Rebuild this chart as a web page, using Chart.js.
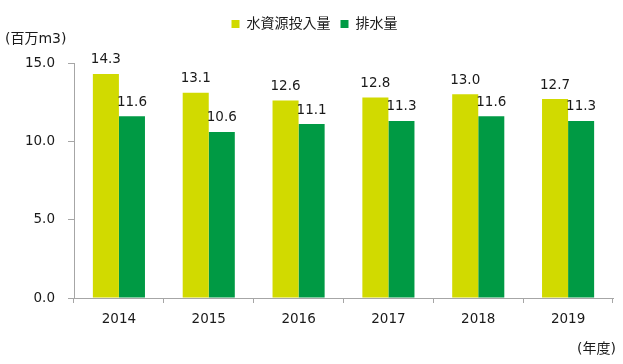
<!DOCTYPE html>
<html>
<head>
<meta charset="utf-8">
<script src="https://cdn.jsdelivr.net/npm/chart.js@4"></script>
<style>
  html, body { margin: 0; padding: 0; background: #fff; }
  .wrap { position: relative; width: 623px; height: 364px; }
  .unit { position: absolute; font: 14px 'DejaVu Sans', 'Noto Sans CJK JP', sans-serif; color: #1a1a1a; line-height: 16px; white-space: nowrap; }
</style>
</head>
<body>
<div class="wrap">
  <canvas id="chart" width="623" height="364"></canvas>
  <div class="unit" style="left:5px;top:30px">(百万m3)</div>
  <div class="unit" style="left:577px;top:340px">(年度)</div>
</div>
<script>
const years = ['2014', '2015', '2016', '2017', '2018', '2019'];
const waterInput = [14.3, 13.1, 12.6, 12.8, 13.0, 12.7];
const drainage = [11.6, 10.6, 11.1, 11.3, 11.6, 11.3];
const seriesNames = ['水資源投入量', '排水量'];
const yTicks = [0, 5, 10, 15];

const font = "'DejaVu Sans', 'Noto Sans CJK JP', sans-serif";
const textColor = '#1a1a1a';
const axisColor = '#a6a6a6';

// value labels above each bar
const barLabels = {
  id: 'barLabels',
  afterDatasetsDraw(chart) {
    const ctx = chart.ctx;
    ctx.save();
    ctx.font = '13.5px ' + font;
    ctx.fillStyle = textColor;
    ctx.textAlign = 'center';
    ctx.textBaseline = 'alphabetic';
    chart.data.datasets.forEach((ds, i) => {
      chart.getDatasetMeta(i).data.forEach((bar, j) => {
        ctx.fillText(ds.data[j].toFixed(1), bar.x, bar.y - 10.5);
      });
    });
    ctx.restore();
  }
};

// extra gap under the legend
const legendGap = {
  id: 'legendGap',
  beforeInit(chart) {
    const fit = chart.legend.fit;
    chart.legend.fit = function() {
      fit.bind(chart.legend)();
      this.height += 22;
    };
  }
};

new Chart(document.getElementById('chart'), {
  type: 'bar',
  data: {
    labels: years,
    datasets: [
      { label: seriesNames[0], data: waterInput, backgroundColor: '#d1da00' },
      { label: seriesNames[1], data: drainage, backgroundColor: '#009a44' }
    ]
  },
  options: {
    responsive: false,
    animation: false,
    layout: { padding: { top: 7, right: 10, bottom: 0, left: 16 } },
    datasets: { bar: { categoryPercentage: 0.58, barPercentage: 1 } },
    plugins: {
      legend: {
        position: 'top',
        labels: { boxWidth: 8, boxHeight: 8, padding: 10, color: textColor, font: { family: font, size: 14 } }
      },
      tooltip: { enabled: false }
    },
    scales: {
      x: {
        afterFit(s) { s.height = 66; },
        border: { color: axisColor },
        grid: { drawOnChartArea: false, color: axisColor, tickLength: 5 },
        ticks: { color: textColor, padding: 8, font: { family: font, size: 13.5 } }
      },
      y: {
        min: 0, max: 15,
        afterFit(s) { s.width = 58; },
        afterBuildTicks(s) { s.ticks = yTicks.map(v => ({ value: v })); },
        border: { color: axisColor },
        grid: { drawOnChartArea: false, color: axisColor, tickLength: 6 },
        ticks: { color: textColor, padding: 13, font: { family: font, size: 13.5 }, callback: v => v.toFixed(1) }
      }
    }
  },
  plugins: [barLabels, legendGap]
});
</script>
</body>
</html>
